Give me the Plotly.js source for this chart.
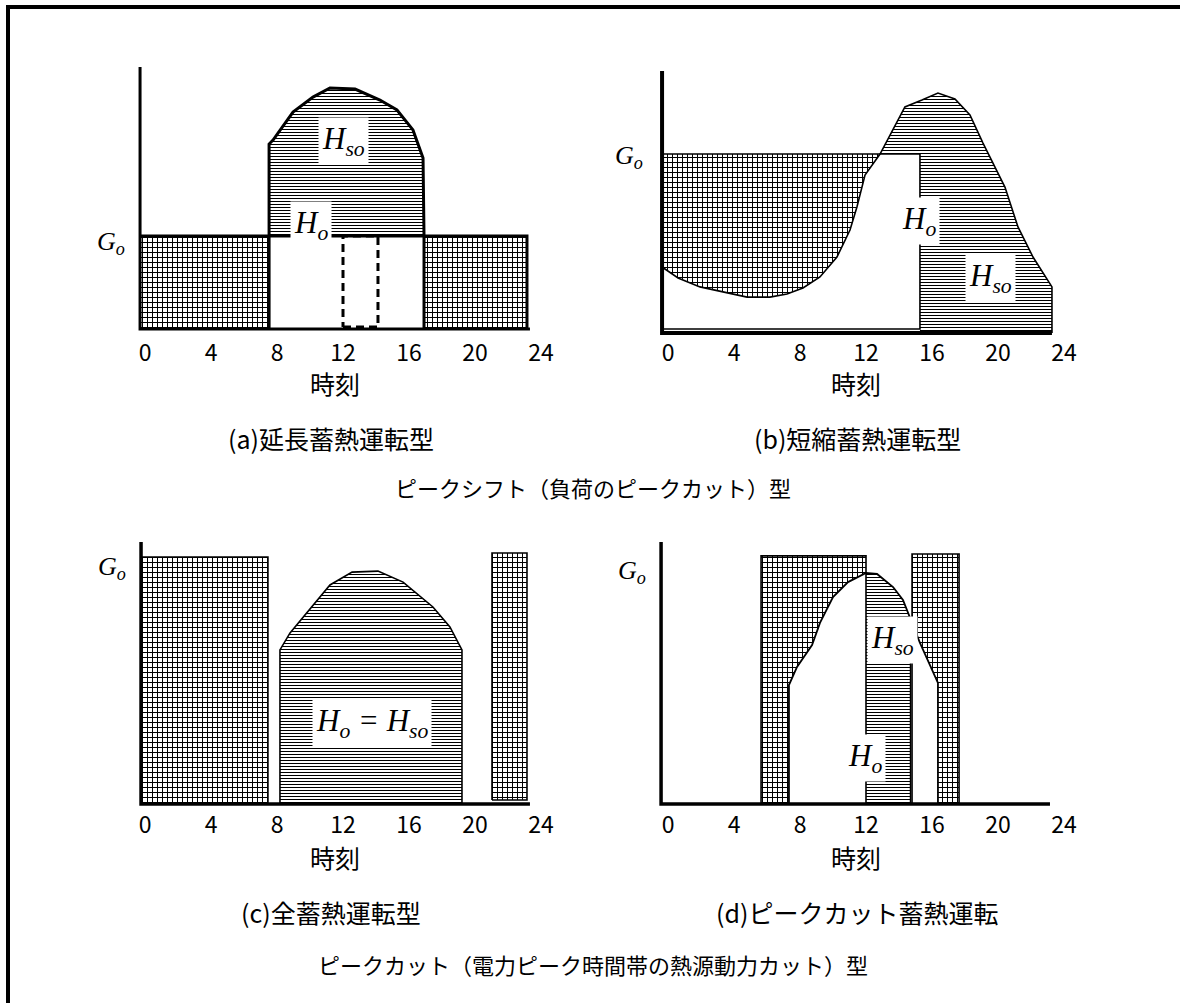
<!DOCTYPE html>
<html>
<head>
<meta charset="utf-8">
<script src="https://cdn.plot.ly/plotly-3.0.1.min.js"></script>
<style>html,body{margin:0;padding:0;background:#fff;}</style>
</head>
<body>
<div id="chart" style="width:1180px;height:1003px;"></div>
<script>
// hour ticks shared by all four panels
var hours = [0, 4, 8, 12, 16, 20, 24];

// (a) 延長蓄熱運転型  (x: hour, y: load, axis top = 100)
var a_axisX = [-0.3, 23.33];
var a_goLevel = 35.5;
var a_storeLeft = [-0.3, 7.52];
var a_storeRight = [16.91, 23.15];
var a_loadX = [7.52, 7.52, 7.76, 8.97, 10.18, 11.21, 12.73, 14.24, 15.27, 16.24, 16.85, 16.91, 16.91];
var a_loadY = [0, 70.6, 72.1, 82.8, 88.5, 92.0, 91.6, 87.4, 83.6, 76.0, 65.3, 35.5, 0];
var a_dashX = [12.0, 14.12];
var a_dashY = [0.8, 35.5];

// (b) 短縮蓄熱運転型
var b_axisX = [-0.36, 23.27];
var b_rectX = [-0.36, 15.27];
var b_rectY = [1.5, 68.3];
var b_loadX = [-0.36, 0.61, 1.94, 3.58, 4.79, 6.18, 7.21, 8.18, 9.21, 10.24, 11.03, 11.45, 11.94, 12.85,
               13.64, 14.36, 15.39, 16.36, 17.39, 18.30, 19.09, 20.42, 21.21, 22.12, 23.27, 23.27];
var b_loadY = [25.2, 21.0, 17.6, 15.3, 13.7, 13.7, 14.9, 17.2, 21.4, 29.0, 39.3, 48.1, 60.3, 68.3,
               77.5, 86.3, 88.9, 91.6, 89.3, 83.2, 72.5, 55.7, 40.5, 29.0, 17.6, 0];

// (c) 全蓄熱運転型
var c_axisX = [-0.24, 23.33];
var c_storeLeft = [-0.24, 7.45];
var c_storeLeftY = [0, 94.3];
var c_storeRight = [21.03, 23.15];
var c_storeRightY = [1.5, 95.8];
var c_loadX = [8.18, 8.18, 8.79, 9.82, 11.21, 12.55, 14.12, 15.64, 17.45, 18.48, 19.21, 19.21];
var c_loadY = [0, 58.8, 65.3, 72.9, 83.6, 88.5, 88.9, 84.7, 75.2, 67.6, 58.8, 0];

// (d) ピークカット蓄熱運転
var d_axisX = [-0.42, 23.15];
var d_storeLeft = [5.64, 12.0];
var d_storeLeftY = [0, 94.7];
var d_storeRight = [14.79, 17.64];
var d_storeRightY = [0, 95.4];
var d_loadX = [7.33, 7.33, 7.82, 8.73, 9.21, 10.0, 10.91, 12.0, 12.67, 13.64, 14.24, 14.7, 15.27, 16.36, 16.36];
var d_loadY = [0, 45.4, 52.3, 60.7, 69.1, 79.0, 84.7, 88.2, 87.8, 82.8, 77.9, 70.9, 61.5, 46.2, 0];

// ---------------------------------------------------------------
var W = 1180, H = 1003;
var PX_PER_HOUR = 16.5, PX_PER_UNIT = 2.62;
var JP = '"Noto Sans CJK JP", "Noto Sans", sans-serif';
var SERIF = '"Liberation Serif", "Times New Roman", serif';

function fx(px) { return px / W; }
function fy(py) { return 1 - py / H; }

// axis pair for one panel, from its pixel box
function panelAxes(zeroPx, basePx, left, right, top, bottom, n) {
    var xa = {
        domain: [fx(left), fx(right)],
        range: [(left - zeroPx) / PX_PER_HOUR, (right - zeroPx) / PX_PER_HOUR],
        anchor: 'y' + n,
        tickmode: 'array', tickvals: hours, ticktext: hours.map(String),
        showgrid: false, zeroline: false, showline: false, ticks: '',
        tickfont: { family: JP, size: 23, color: '#000' }
    };
    var ya = {
        domain: [fy(bottom), fy(top)],
        range: [(basePx - bottom) / PX_PER_UNIT, (basePx - top) / PX_PER_UNIT],
        anchor: 'x' + n,
        showgrid: false, zeroline: false, showline: false, showticklabels: false, ticks: ''
    };
    return [xa, ya];
}

var CROSS = { shape: '+', size: 5, solidity: 0.36, fgcolor: '#000', bgcolor: '#fff' };
var LINES = { shape: '-', size: 3, solidity: 0.34, fgcolor: '#000', bgcolor: '#fff' };

function area(xs, ys, pat, n) {
    var t = {
        x: xs, y: ys, xaxis: 'x' + n, yaxis: 'y' + n,
        type: 'scatter', mode: 'none', fill: 'toself',
        fillcolor: '#fff', hoverinfo: 'skip'
    };
    if (pat) t.fillpattern = pat;
    return t;
}

function stroke(xs, ys, width, n, dash) {
    return {
        x: xs, y: ys, xaxis: 'x' + n, yaxis: 'y' + n,
        type: 'scatter', mode: 'lines', hoverinfo: 'skip',
        line: { color: '#000', width: width, dash: dash || 'solid' }
    };
}

function box(x0, x1, y0, y1) {
    return { x: [x0, x1, x1, x0, x0], y: [y0, y0, y1, y1, y0] };
}

var data = [];

// ---- (a)
var aL = box(a_storeLeft[0], a_storeLeft[1], 0, a_goLevel);
var aR = box(a_storeRight[0], a_storeRight[1], 0, a_goLevel);
data.push(area(aL.x, aL.y, CROSS, ''));
data.push(area(aR.x, aR.y, CROSS, ''));
data.push(area(a_loadX.slice(1, 12).concat([a_loadX[0]]),
               a_loadY.slice(1, 12).concat([a_goLevel]), LINES, ''));
data.push(stroke([a_storeLeft[0], a_storeRight[1], a_storeRight[1]], [a_goLevel, a_goLevel, 0], 3, ''));
data.push(stroke(a_loadX, a_loadY, 3, ''));
var aD = box(a_dashX[0], a_dashX[1], a_dashY[0], a_dashY[1]);
data.push(stroke(aD.x, aD.y, 3, '', '8px,5px'));
data.push(stroke([a_axisX[0], a_axisX[0], a_axisX[1]], [100, 0, 0], 3, ''));

// ---- (b)
var k = b_loadY.indexOf(b_rectY[1]);
data.push(area(b_loadX.slice(0, k + 1).concat([b_rectX[0]]),
               b_loadY.slice(0, k + 1).concat([b_rectY[1]]), CROSS, 2));
data.push(area(b_loadX.slice(k).concat([b_rectX[1], b_rectX[1]]),
               b_loadY.slice(k).concat([0, b_rectY[1]]), LINES, 2));
var bR = box(b_rectX[0], b_rectX[1], b_rectY[0], b_rectY[1]);
data.push(stroke(bR.x, bR.y, 1.6, 2));
data.push(stroke(b_loadX, b_loadY, 1.6, 2));
data.push(stroke([b_axisX[0], b_axisX[0], b_axisX[1]], [100, 0, 0], 4, 2));

// ---- (c)
var cL = box(c_storeLeft[0], c_storeLeft[1], c_storeLeftY[0], c_storeLeftY[1]);
var cR = box(c_storeRight[0], c_storeRight[1], c_storeRightY[0], c_storeRightY[1]);
data.push(area(cL.x, cL.y, CROSS, 3));
data.push(area(cR.x, cR.y, CROSS, 3));
data.push(area(c_loadX, c_loadY, LINES, 3));
data.push(stroke(cL.x, cL.y, 1.6, 3));
data.push(stroke(cR.x, cR.y, 1.6, 3));
data.push(stroke(c_loadX, c_loadY, 1.6, 3));
data.push(stroke([c_axisX[0], c_axisX[0], c_axisX[1]], [100, 0, 0], 3.5, 3));

// ---- (d)
var dL = box(d_storeLeft[0], d_storeLeft[1], d_storeLeftY[0], d_storeLeftY[1]);
var dR = box(d_storeRight[0], d_storeRight[1], d_storeRightY[0], d_storeRightY[1]);
data.push(area(dL.x, dL.y, CROSS, 4));
data.push(area(dR.x, dR.y, CROSS, 4));
data.push(area(d_loadX, d_loadY, null, 4));
var i0 = d_loadX.indexOf(d_storeLeft[1]), i1 = d_loadX.indexOf(14.7);
data.push(area(d_loadX.slice(i0, i1 + 1).concat([d_loadX[i1], d_loadX[i0]]),
               d_loadY.slice(i0, i1 + 1).concat([0, 0]), LINES, 4));
data.push(stroke(dL.x, dL.y, 1.6, 4));
data.push(stroke(dR.x, dR.y, 1.6, 4));
data.push(stroke(d_loadX, d_loadY, 1.8, 4));
data.push(stroke([d_loadX[i1], d_loadX[i1]], [0, d_loadY[i1]], 1.6, 4));
data.push(stroke([d_axisX[0], d_axisX[0], d_axisX[1]], [100, 0, 0], 3.5, 4));

// ---- axes
var pa = panelAxes(145, 329, 90, 570, 50, 337, '');
var pb = panelAxes(668, 333, 610, 1090, 50, 337, 2);
var pc = panelAxes(145, 804, 90, 570, 525, 809, 3);
var pd = panelAxes(668, 804, 610, 1090, 525, 809, 4);

// ---- labels
function sym(text, x, y, n, size, anchor) {
    return {
        text: text, x: x, y: y, xref: 'x' + n, yref: 'y' + n,
        showarrow: false, xanchor: anchor || 'center', yanchor: 'middle',
        bgcolor: anchor ? 'rgba(0,0,0,0)' : '#fff', borderpad: 3,
        font: { family: SERIF, size: size, color: '#000' }
    };
}
function jp(text, px, py, size) {
    return {
        text: text, x: fx(px), y: fy(py), xref: 'paper', yref: 'paper',
        showarrow: false, xanchor: 'center', yanchor: 'middle',
        font: { family: JP, size: size, color: '#000' }
    };
}
var GO = '<i>G<sub>o</sub></i>';
var HO = '<i>H<sub>o</sub></i>';
var HSO = '<i>H<sub>so</sub></i>';

var annotations = [
    sym(GO, -1.0, 33.0, '', 26, 'right'),
    sym(HSO, 12.0, 71.8, '', 31),
    sym(HO, 10.06, 39.7, '', 31),
    sym(GO, -1.3, 67.0, 2, 26, 'right'),
    sym(HO, 15.21, 42.7, 2, 31),
    sym(HSO, 19.52, 21.0, 2, 31),
    sym(GO, -0.9, 90.2, 3, 26, 'right'),
    sym('<i>H<sub>o</sub> = H<sub>so</sub></i>', 13.76, 30.9, 3, 31),
    sym(GO, -1.1, 88.7, 4, 26, 'right'),
    sym(HSO, 13.58, 62.6, 4, 31),
    sym(HO, 11.94, 17.6, 4, 31),

    jp('時刻', 335, 383, 25),
    jp('時刻', 856, 383, 25),
    jp('時刻', 335, 857, 25),
    jp('時刻', 856, 857, 25),
    jp('(a)延長蓄熱運転型', 331, 438, 25),
    jp('(b)短縮蓄熱運転型', 857, 438, 25),
    jp('ピークシフト（負荷のピークカット）型', 593, 487, 22),
    jp('(c)全蓄熱運転型', 331, 912, 25),
    jp('(d)ピークカット蓄熱運転', 857, 912, 25),
    jp('ピークカット（電力ピーク時間帯の熱源動力カット）型', 593, 964, 22)
];

var layout = {
    width: W, height: H,
    margin: { t: 0, b: 0, l: 0, r: 0 },
    paper_bgcolor: '#fff', plot_bgcolor: 'rgba(0,0,0,0)',
    showlegend: false,
    xaxis: pa[0], yaxis: pa[1],
    xaxis2: pb[0], yaxis2: pb[1],
    xaxis3: pc[0], yaxis3: pc[1],
    xaxis4: pd[0], yaxis4: pd[1],
    annotations: annotations,
    shapes: [
        { type: 'line', xref: 'paper', yref: 'paper', x0: fx(6), x1: 1, y0: fy(7), y1: fy(7),
          line: { color: '#000', width: 4 } },
        { type: 'line', xref: 'paper', yref: 'paper', x0: fx(8), x1: fx(8), y0: 0, y1: fy(5),
          line: { color: '#000', width: 4 } }
    ]
};

Plotly.newPlot('chart', data, layout, { staticPlot: true });
</script>
</body>
</html>
